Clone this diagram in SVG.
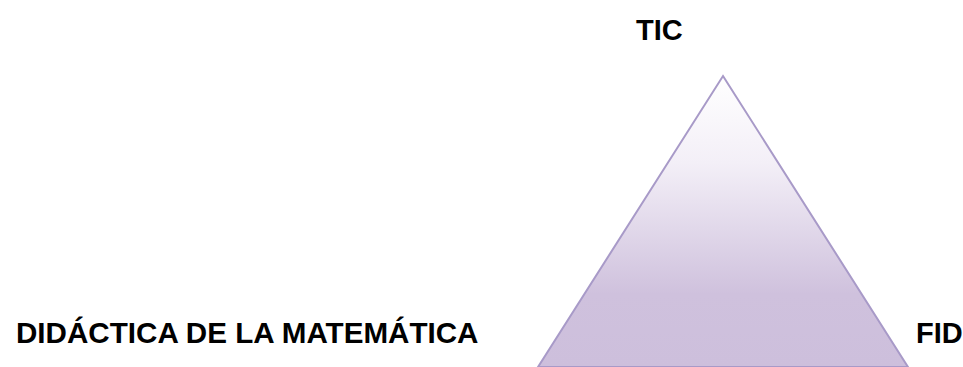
<svg xmlns="http://www.w3.org/2000/svg" width="963" height="367" viewBox="0 0 963 367">
<style>
.lbl{font-family:"Liberation Sans",Arial,sans-serif;font-weight:bold;font-size:29px;fill:#000}
</style>
<defs>
<linearGradient id="g" x1="0" y1="0" x2="0" y2="1">
<stop offset="0" stop-color="#ffffff"/>
<stop offset="0.3" stop-color="#f3eff7"/>
<stop offset="0.75" stop-color="#cfc1dd"/>
<stop offset="1" stop-color="#cdbfdc"/>
</linearGradient>
</defs>
<rect width="963" height="367" fill="#fff"/>
<g id="triangle">
<polygon points="723,76 908,367 538,367" fill="url(#g)" stroke="#a89ac8" stroke-width="2"/>
</g>
<g id="tic"><text class="lbl" x="636" y="40">TIC</text></g>
<g id="didactica"><text class="lbl" x="16" y="343" style="font-size:29.6px">DIDÁCTICA DE LA MATEMÁTICA</text></g>
<g id="fid"><text class="lbl" x="916" y="343">FID</text></g>
<g id="connectors"></g>
</svg>
